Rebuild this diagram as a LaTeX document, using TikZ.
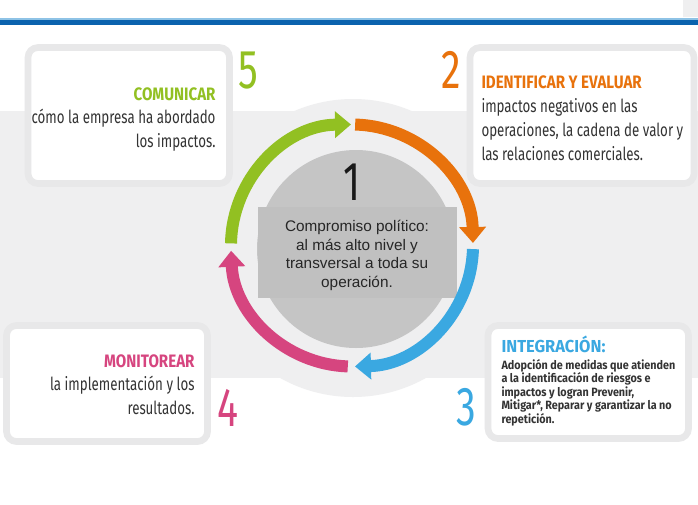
\documentclass[tikz,border=0pt]{standalone}
\usepackage{fontspec}
\setmainfont{Liberation Sans}
\newfontfamily\dinfont[FakeStretch=0.74]{Fira Sans}
\newfontfamily\dinhead[FakeStretch=0.84]{Fira Sans}
\newfontfamily\dinwide[FakeStretch=0.95]{Fira Sans}
\newfontfamily\dinsmall[FakeStretch=0.9]{Fira Sans}
\newfontfamily\dinnum[FakeStretch=0.72]{Fira Sans}
\usetikzlibrary{arrows.meta}

\definecolor{cgreen}{RGB}{146,192,34}
\definecolor{corange}{RGB}{232,114,12}
\definecolor{cblue}{RGB}{58,168,225}
\definecolor{cpink}{RGB}{214,69,127}
\definecolor{topblue}{RGB}{11,99,174}
\definecolor{topltblue}{RGB}{142,195,230}
\definecolor{bandgray}{RGB}{239,239,240}
\definecolor{boxgray}{RGB}{232,232,233}
\definecolor{coregray}{RGB}{197,197,197}
\definecolor{rectgray}{RGB}{192,192,192}
\definecolor{bodygray}{RGB}{51,51,51}

\newcommand{\boxhead}[2]{\textcolor{#1}{\dinhead\bfseries #2}}

\tikzset{every picture/.style={line width=0.75pt}}

\begin{document}
\begin{tikzpicture}[x=0.75pt,y=0.75pt,yscale=-1,xscale=1,
  boxfrm/.style={draw=boxgray, line width=5pt, fill=white, rounded corners=7.5pt},
  ringarr/.style={line width=9pt, -{Triangle[width=19.5pt,length=12pt]}},
  numtxt/.style={font=\dinnum\fontsize{41}{41}\selectfont, inner sep=0pt, anchor=base},
  boxtxt/.style={font=\dinfont\fontsize{13.5}{17.6}\selectfont, text=bodygray, inner sep=0pt},
  ]
\useasboundingbox (0,0) rectangle (698,504);
\fill[white] (0,0) rectangle (698,504);

%Top bar
\fill[bandgray] (683,0) rectangle (698,17);
\fill[topltblue] (0,17.5) rectangle (698,19.5);
\fill[topblue] (0,19.5) rectangle (698,24.5);

%Background band and disc
\fill[bandgray] (0,111) rectangle (698,378);
\fill[bandgray] (353,248) circle[radius=149];

%Boxes
\draw[boxfrm] (28,47.5) rectangle (229.5,183.5);
\draw[boxfrm] (470,47.5) rectangle (694,183.5);
\draw[boxfrm] (6.5,325.5) rectangle (207.5,441.5);
\draw[boxfrm] (488,325.5) rectangle (688.5,438.5);

%Core
\fill[coregray] (356,249) circle[radius=99];
\fill[rectgray] (258,207) rectangle (457,298);

%Ring arrows
\draw[ringarr, cgreen] (352,245.5) ++(181:121) arc[start angle=181, end angle=269.5, radius=121];
\draw[ringarr, corange] (352,245.5) ++(271.5:121) arc[start angle=271.5, end angle=358.8, radius=121];
\draw[ringarr, cblue] (352,245.5) ++(1.7:121) arc[start angle=1.7, end angle=88.6, radius=121];
\draw[ringarr, cpink] (352,245.5) ++(92:121) arc[start angle=92, end angle=177.5, radius=121];

% Text Node (base = last line)
\node[numtxt, text=black!90] (n1) at (352,200) {1};
\node[font=\fontsize{11.5}{13.9}\selectfont, align=center, text=black!85, inner sep=0pt, anchor=base] (core) at (357,287.5) {Compromiso político:\\al más alto nivel y\\transversal a toda su\\operación.};

\node[numtxt, text=cgreen] (n5) at (248.5,88) {5};
\node[numtxt, text=corange] (n2) at (451.5,88) {2};
\node[numtxt, text=cpink] (n4) at (228,426) {4};
\node[numtxt, text=cblue] (n3) at (466.5,425) {3};

\node[boxtxt, align=right, anchor=base east] (t5) at (216,147) {\boxhead{cgreen}{COMUNICAR}\\cómo la empresa ha abordado\\los impactos.};
\node[boxtxt, font=\dinfont\fontsize{13.5}{18}\selectfont, align=left, anchor=base west] (t2) at (481,160) {\boxhead{corange}{IDENTIFICAR Y EVALUAR}\\impactos negativos en las\\operaciones, la cadena de valor y\\las relaciones comerciales.};
\node[boxtxt, align=right, anchor=base east] (t4) at (195,414) {\boxhead{cpink}{MONITOREAR}\\la implementación y los\\resultados.};
\node[boxtxt, font=\dinwide\fontsize{13}{13}\selectfont\bfseries, text=cblue, anchor=base west] (h3) at (501,352) {INTEGRACIÓN:};
\node[boxtxt, font=\dinsmall\fontsize{9}{10.1}\selectfont\bfseries, text=black!80, align=left, anchor=base west] (t3) at (501,423) {Adopción de medidas que atienden\\a la identificación de riesgos e\\impactos y logran Prevenir,\\Mitigar*, Reparar y garantizar la no\\repetición.};

\end{tikzpicture}
\end{document}
